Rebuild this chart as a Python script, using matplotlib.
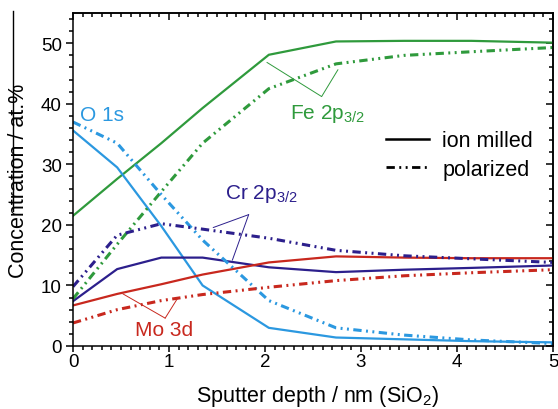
import matplotlib
matplotlib.use("Agg")
import matplotlib.pyplot as plt
from matplotlib.lines import Line2D
from matplotlib.ticker import MultipleLocator
import numpy as np

plt.rcParams['font.family'] = ['Liberation Sans', 'DejaVu Sans']
plt.rcParams['mathtext.fontset'] = 'custom'
plt.rcParams['mathtext.rm'] = 'Liberation Sans'
plt.rcParams['mathtext.it'] = 'Liberation Sans:italic'
plt.rcParams['lines.scale_dashes'] = False

depth = np.array([0, 0.46, 0.92, 1.35, 2.04, 2.74, 3.45, 4.15, 5.0])

# ion milled (solid)
fe_ion = np.array([21.5, 27.6, 33.5, 39.3, 48.1, 50.3, 50.4, 50.4, 50.1])
o_ion = np.array([35.6, 29.5, 19.8, 10.0, 3.0, 1.4, 1.1, 0.8, 0.6])
cr_ion = np.array([7.4, 12.7, 14.6, 14.6, 13.0, 12.2, 12.6, 12.9, 13.3])
mo_ion = np.array([6.7, 8.6, 10.2, 11.8, 13.8, 14.8, 14.6, 14.5, 14.5])

# polarized (dash-dot-dot)
fe_pol = np.array([7.8, 16.8, 25.5, 33.5, 42.5, 46.6, 48.0, 48.6, 49.3])
o_pol = np.array([37.0, 33.5, 25.0, 17.5, 7.5, 3.0, 1.8, 1.0, 0.4])
cr_pol = np.array([9.8, 18.3, 20.2, 19.3, 17.8, 15.8, 14.9, 14.4, 13.8])
mo_pol = np.array([3.8, 6.0, 7.5, 8.5, 9.7, 10.8, 11.6, 12.1, 12.6])

c_fe = '#2f9a3c'
c_o = '#2b98e0'
c_cr = '#2c1f8c'
c_mo = '#c8281e'
ddot = (0, (6, 3.2, 1.4, 3.2, 1.4, 3.2))

fig = plt.figure(figsize=(5.58, 4.10), dpi=100)
ax = fig.add_axes([73/558, 63/410, 480/558, 333/410])

for y, c in [(fe_ion, c_fe), (o_ion, c_o), (cr_ion, c_cr), (mo_ion, c_mo)]:
    ax.plot(depth, y, color=c, lw=1.6, solid_joinstyle='miter')
for y, c in [(fe_pol, c_fe), (o_pol, c_o), (cr_pol, c_cr), (mo_pol, c_mo)]:
    ax.plot(depth, y, color=c, lw=2.2, linestyle=ddot)

# labels with leader lines
ax.text(0.07, 37.3, 'O 1s', color=c_o, fontsize=15)
ax.text(2.26, 37.7, 'Fe 2p$_\\mathregular{3/2}$', color=c_fe, fontsize=15)
ax.text(1.58, 24.5, 'Cr 2p$_\\mathregular{3/2}$', color=c_cr, fontsize=15)
ax.text(0.65, 1.8, 'Mo 3d', color=c_mo, fontsize=15)

leaders = [
    ((2.59, 41.2), 2.02, fe_ion, -1.0, c_fe),
    ((2.59, 41.2), 2.76, fe_pol, -1.0, c_fe),
    ((1.83, 21.7), 1.46, cr_pol, 0.5, c_cr),
    ((1.83, 21.7), 1.66, cr_ion, 0.3, c_cr),
    ((0.96, 4.6), 0.52, mo_ion, -0.2, c_mo),
    ((0.96, 4.6), 1.09, mo_pol, 0.0, c_mo),
]
for apex, xe, ser, off, c in leaders:
    ax.annotate('', xy=(xe, np.interp(xe, depth, ser) + off), xytext=apex,
                arrowprops=dict(arrowstyle='-', color=c, lw=0.7,
                                shrinkA=0, shrinkB=0))

handles = [Line2D([], [], color='k', lw=1.8),
           Line2D([], [], color='k', lw=2.0, linestyle=ddot)]
ax.legend(handles, ['ion milled', 'polarized'], frameon=False, fontsize=15.5,
          loc='upper left', bbox_to_anchor=(0.63, 0.68), borderpad=0,
          handlelength=2.0, handletextpad=0.6, labelspacing=0.35)

ax.set_xlim(0, 5)
ax.set_ylim(0, 55)
ax.xaxis.set_major_locator(MultipleLocator(1))
ax.xaxis.set_minor_locator(MultipleLocator(0.1))
ax.yaxis.set_major_locator(MultipleLocator(10))
ax.yaxis.set_minor_locator(MultipleLocator(2))
ax.tick_params(axis='both', which='both', direction='out', width=1.1,
               top=False, right=False, labelsize=13.5)
ax.tick_params(axis='x', which='major', length=4, pad=1)
ax.tick_params(axis='x', which='minor', length=3)
ax.tick_params(axis='y', which='major', length=5, pad=3)
ax.tick_params(axis='y', which='minor', length=3)
for s in ax.spines.values():
    s.set_linewidth(1.1)

top = ax.secondary_xaxis('top')
top.xaxis.set_major_locator(MultipleLocator(1))
top.xaxis.set_minor_locator(MultipleLocator(0.1))
top.tick_params(which='both', direction='in', labeltop=False, width=1.1)
top.tick_params(which='major', length=5)
top.tick_params(which='minor', length=3)
right = ax.secondary_yaxis('right')
right.yaxis.set_major_locator(MultipleLocator(10))
right.yaxis.set_minor_locator(MultipleLocator(2))
right.tick_params(which='both', direction='in', labelright=False, width=1.1)
right.tick_params(which='major', length=5)
right.tick_params(which='minor', length=3)
for sa in (top, right):
    for s in sa.spines.values():
        s.set_linewidth(1.1)

ax.set_xlabel('Sputter depth / nm (SiO$_\\mathregular{2}$)', fontsize=15.5)
ax.set_ylabel('Concentration / at.%', fontsize=15.5)
ax.xaxis.set_label_coords(0.51, -0.11)
ax.yaxis.set_label_coords(-0.092, 0.5)

fig.add_artist(Line2D([13/558, 13/558], [1 - 12/410, 1 - 212/410],
                      transform=fig.transFigure, color='k', lw=1.0))

fig.savefig('out.png', dpi=100)
